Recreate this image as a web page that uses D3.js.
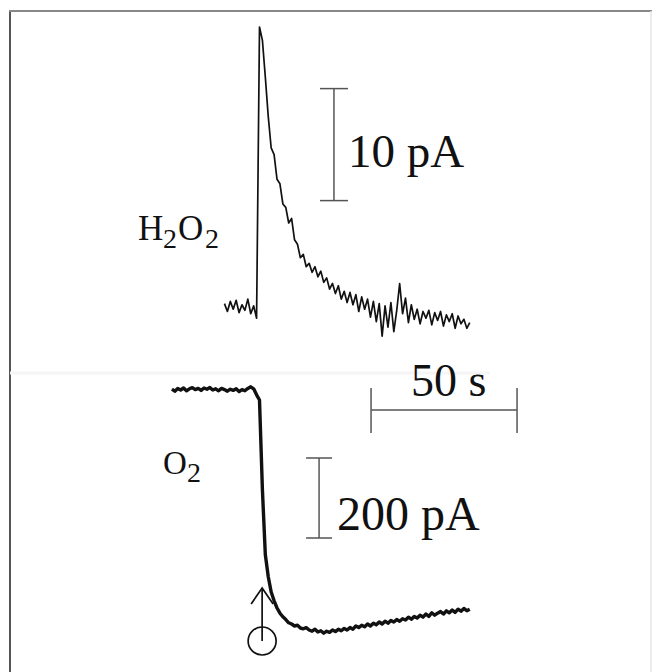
<!DOCTYPE html>
<html>
<head>
<meta charset="utf-8">
<script src="https://cdn.jsdelivr.net/npm/d3@7"></script>
<style>
  body { margin: 0; background: #fff; }
  svg { display: block; }
  text { font-family: "Liberation Serif", "DejaVu Serif", serif; fill: #111; }
</style>
</head>
<body>
<div id="chart"></div>
<script>
// recorded traces, sampled once per second (t in s, 0 = injection)
const h2o2Start = -12
const h2o2Values = [
  0.3, -0.4, 0.5, -0.2, 0.6, -0.5, 0.2, -0.3, 0.7, -0.6, 0.1, -1.0,
  25.0, 23.8, 20.5, 17.0, 14.2, 13.6, 11.4, 11.0, 9.2, 8.9,
  7.5, 7.9, 6.0, 5.6, 4.4, 4.7, 3.6, 3.9, 3.1, 3.6,
  2.7, 3.2, 2.2, 2.6, 1.6, 2.1, 1.2, 1.9, 0.7, 1.4,
  0.4, 1.3, 0.2, 1.1, -0.4, 0.9, -0.2, 0.7, -0.9, 0.5,
  -1.3, 0.3, -2.6, 0.1, -1.8, 0.4, -2.2, -0.3, 2.1, -0.6,
  0.8, -1.4, 0.2, -1.1, -0.2, -1.5, -0.4, -1.0, -0.3, -1.6,
  -0.5, -1.2, -0.4, -1.7, -0.7, -1.3, -0.6, -1.9, -0.8, -1.5,
  -1.1, -1.9, -1.4
]

const o2Start = -30
const o2Values = [
  2, -3, 4, 0, 5, -2, 3, 6, 1, 4,
  -1, 5, 2, 6, 0, 3, -2, 4, 1, -3,
  2, -1, 3, -4, 1, -2, 4, 8, 3, -12,
  -25, -250, -412, -467, -505, -527, -545, -558, -567, -574,
  -582, -585, -590, -588, -595, -597, -594, -600, -603, -598,
  -605, -602, -608, -603, -606, -600, -604, -598, -602, -596,
  -600, -594, -598, -590, -594, -588, -592, -585, -590, -583,
  -587, -580, -585, -578, -583, -576, -580, -574, -578, -572,
  -575, -568, -573, -566, -570, -563, -568, -560, -566, -557,
  -563, -558, -554, -560, -552, -557, -550, -556, -548, -553,
  -546, -552, -548
]

// scale bars
const timeBar = [38.2, 88.2]      // 50 s
const h2o2Bar = [9.5, 19.5]       // 10 pA
const o2Bar = [-170, -370]        // 200 pA
const injectTime = 0.9

const w = 654
const h = 672

const svg = d3.select("#chart")
  .append("svg")
  .attr("width", w)
  .attr("height", h)

// frame
svg.append("line").attr("x1", 10).attr("y1", 11).attr("x2", 10).attr("y2", h)
  .style("stroke", "#555").style("stroke-width", 2)
svg.append("line").attr("x1", 9).attr("y1", 11).attr("x2", 652).attr("y2", 11)
  .style("stroke", "#888").style("stroke-width", 2)
svg.append("line").attr("x1", 651).attr("y1", 11).attr("x2", 651).attr("y2", h)
  .style("stroke", "#e6e6e6").style("stroke-width", 1.5)
// faint scan seam between panels
svg.append("line").attr("x1", 10).attr("y1", 373).attr("x2", 490).attr("y2", 373)
  .style("stroke", "#f5f5f5").style("stroke-width", 3)

const x = d3.scaleLinear().domain([0, 50]).range([259.5, 405.5])
const yH = d3.scaleLinear().domain([0, 25]).range([307, 27])
const yO = d3.scaleLinear().domain([-600, 0]).range([630, 390])

const h2o2 = h2o2Values.map((v, i) => ({ t: h2o2Start + i, v }))
const o2 = o2Values.map((v, i) => ({ t: o2Start + i, v }))

svg.append("path")
  .datum(h2o2)
  .attr("d", d3.line().x(d => x(d.t)).y(d => yH(d.v)))
  .style("fill", "none")
  .style("stroke", "#111")
  .style("stroke-width", 1.7)
  .style("stroke-linejoin", "round")

svg.append("path")
  .datum(o2)
  .attr("d", d3.line().x(d => x(d.t)).y(d => yO(d.v)))
  .style("fill", "none")
  .style("stroke", "#111")
  .style("stroke-width", 3.4)
  .style("stroke-linejoin", "round")

// vertical scale bars
const vBar = (xPos, y0, y1, cap) => {
  const g = svg.append("g").style("stroke", "#555").style("stroke-width", 1.5)
  g.append("line").attr("x1", xPos).attr("x2", xPos).attr("y1", y0).attr("y2", y1)
  g.append("line").attr("x1", xPos - cap).attr("x2", xPos + cap).attr("y1", y0).attr("y2", y0)
  g.append("line").attr("x1", xPos - cap).attr("x2", xPos + cap).attr("y1", y1).attr("y2", y1)
}
vBar(x(25.5), yH(h2o2Bar[1]), yH(h2o2Bar[0]), 14)
vBar(x(20.4), yO(o2Bar[0]), yO(o2Bar[1]), 13)

svg.append("text").attr("x", 348).attr("y", 167)
  .style("font-size", "47px").text("10 pA")
svg.append("text").attr("x", 337).attr("y", 530)
  .style("font-size", "48px").text("200 pA")

// time bar
const tb = svg.append("g").style("stroke", "#555").style("stroke-width", 1.5)
tb.append("line").attr("x1", x(timeBar[0])).attr("x2", x(timeBar[1])).attr("y1", 410).attr("y2", 410)
tb.append("line").attr("x1", x(timeBar[0])).attr("x2", x(timeBar[0])).attr("y1", 388).attr("y2", 433)
tb.append("line").attr("x1", x(timeBar[1])).attr("x2", x(timeBar[1])).attr("y1", 388).attr("y2", 433)
svg.append("text").attr("x", 411).attr("y", 396)
  .style("font-size", "46px").text("50 s")

// labels with subscripts: [text, x, baseline, size]
const h2o2Label = [["H", 138, 240, 35], ["2", 163, 248, 28], ["O", 178, 240, 35], ["2", 205, 248, 28]]
const o2Label = [["O", 163, 474, 33], ["2", 187, 482, 28]]
svg.selectAll("text.chem")
  .data(h2o2Label.concat(o2Label))
  .join("text")
  .attr("class", "chem")
  .attr("x", d => d[1])
  .attr("y", d => d[2])
  .style("font-size", d => d[3] + "px")
  .text(d => d[0])

// injection marker
const ax = x(injectTime)
const mk = svg.append("g").style("stroke", "#111").style("stroke-width", 1.7).style("fill", "none")
mk.append("line").attr("x1", ax).attr("x2", ax).attr("y1", 588).attr("y2", 641)
mk.append("polyline").attr("points", `${ax - 11},${604} ${ax},${588} ${ax + 11},${604}`)
mk.append("circle").attr("cx", ax).attr("cy", 641).attr("r", 14)
</script>
</body>
</html>
